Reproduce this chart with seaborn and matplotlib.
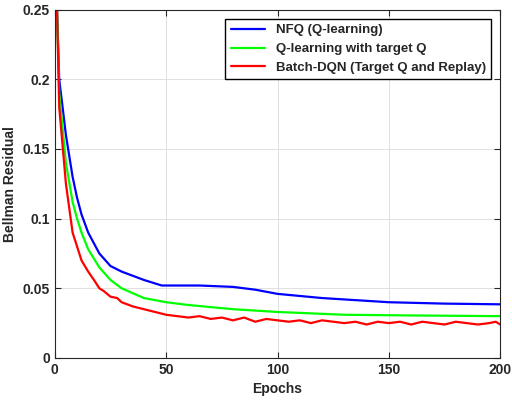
import matplotlib
matplotlib.use("Agg")
import matplotlib.pyplot as plt
import seaborn as sns
import pandas as pd

sns.set_style("whitegrid")
plt.rcParams['font.family'] = ['Liberation Sans', 'DejaVu Sans']

blue_x = [1, 2, 5, 8, 10, 12, 15, 20, 25, 30, 40, 48, 55, 65, 80, 90, 100, 120, 150, 175, 200]
blue_y = [0.25, 0.20, 0.16, 0.13, 0.115, 0.103, 0.09, 0.075, 0.066, 0.062, 0.056, 0.052, 0.052, 0.052, 0.051, 0.049, 0.046, 0.043, 0.040, 0.039, 0.0385]
green_x = [1, 2, 5, 8, 10, 12, 15, 20, 25, 30, 40, 50, 60, 80, 100, 130, 160, 200]
green_y = [0.25, 0.19, 0.14, 0.112, 0.10, 0.09, 0.078, 0.065, 0.056, 0.05, 0.043, 0.040, 0.038, 0.035, 0.033, 0.031, 0.0305, 0.030]
red_x = [1, 2, 5, 8, 10, 12, 15, 18, 20, 22, 25, 28, 30, 35, 40, 45, 50, 55, 60, 65, 70, 75, 80, 85, 90, 95, 100,
         105, 110, 115, 120, 125, 130, 135, 140, 145, 150, 155, 160, 165, 170, 175, 180, 185, 190, 195, 198, 200]
red_y = [0.25, 0.18, 0.125, 0.09, 0.08, 0.07, 0.062, 0.055, 0.050, 0.048, 0.044, 0.043, 0.040, 0.037, 0.035, 0.033, 0.031, 0.030, 0.029, 0.030,
         0.028, 0.029, 0.027, 0.029, 0.026, 0.028, 0.027, 0.026, 0.027, 0.025, 0.027, 0.026, 0.025, 0.026, 0.024, 0.026, 0.025,
         0.026, 0.024, 0.026, 0.025, 0.024, 0.026, 0.025, 0.024, 0.025, 0.026, 0.024]

fig = plt.figure(figsize=(5.12, 4.04), dpi=100)
ax = fig.add_axes([0.107, 0.114, 0.87, 0.862])
sns.lineplot(x=blue_x, y=blue_y, color='#0000ff', lw=1.6, label='NFQ (Q-learning)', ax=ax)
sns.lineplot(x=green_x, y=green_y, color='#00ff00', lw=1.6, label='Q-learning with target Q', ax=ax)
sns.lineplot(x=red_x, y=red_y, color='#ff0000', lw=1.6, label='Batch-DQN (Target Q and Replay)', ax=ax)
ax.set_xlim(0, 200)
ax.set_ylim(0, 0.25)
ax.set_xticks([0, 50, 100, 150, 200])
ax.set_yticks([0, 0.05, 0.1, 0.15, 0.2, 0.25])
ax.set_yticklabels(['0', '0.05', '0.1', '0.15', '0.2', '0.25'])
ax.set_xlabel('Epochs', fontweight='bold', fontsize=10)
ax.set_ylabel('Bellman Residual', fontweight='bold', fontsize=10)
for t in ax.get_xticklabels() + ax.get_yticklabels():
    t.set_fontweight('bold')
    t.set_fontsize(10)
ax.tick_params(direction='in', length=4, bottom=True, left=True, top=True, right=True)
ax.grid(color='#e0e0e0', lw=0.7)
for s in ax.spines.values():
    s.set_color('#262626')
    s.set_linewidth(0.8)
leg = ax.legend(loc='upper right', frameon=True, fancybox=False, framealpha=1,
                prop={'weight': 'bold', 'size': 9.5}, handlelength=2.6, borderaxespad=0.7)
leg.get_frame().set_edgecolor('black')
fig.savefig('out.png', dpi=100)
